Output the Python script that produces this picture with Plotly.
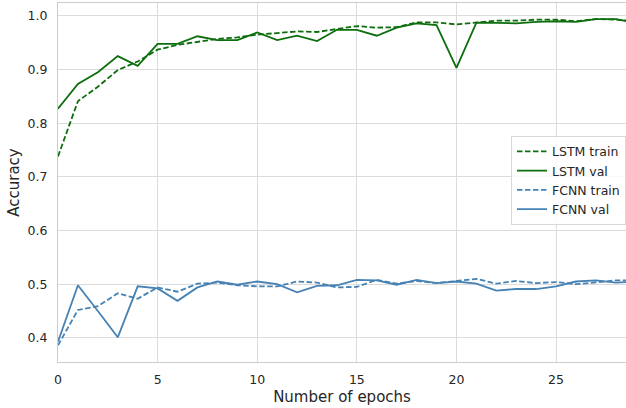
import plotly.graph_objects as go

epochs = list(range(30))

lstm_train = [0.738, 0.841, 0.868, 0.899, 0.915, 0.937, 0.946, 0.951, 0.957, 0.960,
              0.965, 0.968, 0.971, 0.970, 0.976, 0.981, 0.978, 0.979, 0.988, 0.988,
              0.984, 0.988, 0.991, 0.991, 0.993, 0.993, 0.990, 0.994, 0.993, 0.990]
lstm_val = [0.827, 0.873, 0.895, 0.925, 0.907, 0.948, 0.948, 0.962, 0.955, 0.955,
            0.969, 0.955, 0.963, 0.953, 0.974, 0.974, 0.963, 0.978, 0.986, 0.983,
            0.903, 0.9875, 0.987, 0.986, 0.989, 0.990, 0.989, 0.994, 0.994, 0.987]
fcnn_train = [0.386, 0.452, 0.459, 0.483, 0.473, 0.494, 0.486, 0.501, 0.503, 0.498,
              0.496, 0.496, 0.505, 0.503, 0.494, 0.495, 0.508, 0.501, 0.506, 0.502,
              0.506, 0.510, 0.501, 0.506, 0.502, 0.504, 0.500, 0.504, 0.507, 0.507]
fcnn_val = [0.393, 0.498, 0.450, 0.401, 0.496, 0.492, 0.469, 0.494, 0.505, 0.499,
            0.505, 0.500, 0.485, 0.497, 0.498, 0.508, 0.507, 0.499, 0.508, 0.502,
            0.505, 0.501, 0.488, 0.491, 0.491, 0.496, 0.505, 0.507, 0.503, 0.505]

x_ticks = [0, 5, 10, 15, 20, 25]
y_ticks = [0.4, 0.5, 0.6, 0.7, 0.8, 0.9, 1.0]

GREEN = "#0c6e0c"
BLUE = "#4682B4"
DASH = "5.5px,2.5px"

series = [
    ("LSTM train", lstm_train, GREEN, DASH),
    ("LSTM val", lstm_val, GREEN, "solid"),
    ("FCNN train", fcnn_train, BLUE, DASH),
    ("FCNN val", fcnn_val, BLUE, "solid"),
]

fig = go.Figure()
for name, vals, color, dash in series:
    fig.add_trace(go.Scatter(
        x=epochs, y=vals, mode="lines", name=name,
        line=dict(color=color, width=1.8, dash=dash),
    ))

font_family = "DejaVu Sans"
text_color = "#262626"
grid_color = "#dcdcdc"

fig.update_layout(
    width=626, height=408,
    margin=dict(l=58, r=0, t=3, b=46),
    paper_bgcolor="white", plot_bgcolor="white",
    font=dict(family=font_family, size=12.5, color=text_color),
    showlegend=True,
    legend=dict(
        x=0.798, y=0.63, xanchor="left", yanchor="top",
        bgcolor="rgba(255,255,255,0.85)", bordercolor="#d8d8d8", borderwidth=1,
        font=dict(family=font_family, size=12.5, color=text_color),
        tracegroupgap=0,
    ),
    xaxis=dict(
        range=[0, 28.51], tickvals=x_ticks, ticktext=[str(v) for v in x_ticks],
        automargin=False,
        showgrid=True, gridcolor=grid_color, gridwidth=1,
        showline=True, linecolor="#cccccc", linewidth=1, mirror=True,
        zeroline=False, ticks="", ticklabelstandoff=6,
        title=dict(text="Number of epochs", font=dict(size=15, family=font_family), standoff=5),
        tickfont=dict(size=12.5, family=font_family),
    ),
    yaxis=dict(
        range=[0.355, 1.024], tickvals=y_ticks, ticktext=[f"{v:.1f}" for v in y_ticks],
        automargin=False,
        showgrid=True, gridcolor=grid_color, gridwidth=1,
        showline=True, linecolor="#cccccc", linewidth=1,
        zeroline=False, ticks="", ticklabelstandoff=7,
        title=dict(text="Accuracy", font=dict(size=15, family=font_family), standoff=4),
        tickfont=dict(size=12.5, family=font_family),
    ),
)

fig.write_html("out.html")
